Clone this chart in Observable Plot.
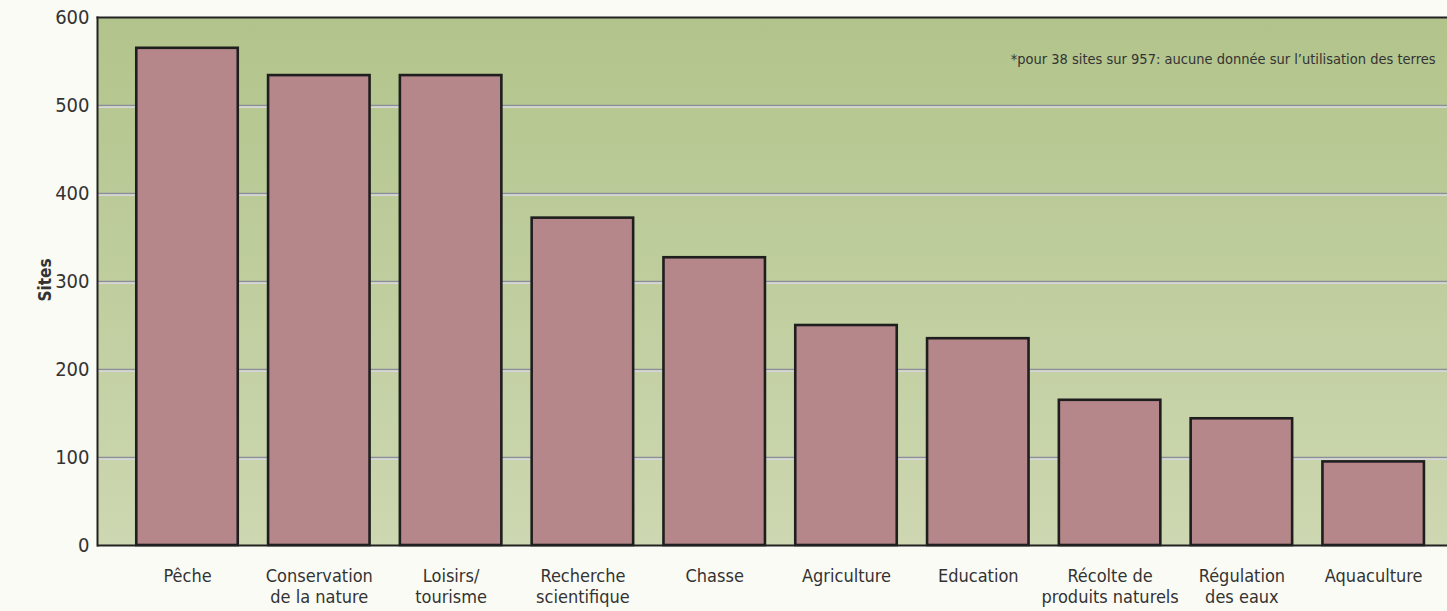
<!DOCTYPE html>
<html><head><meta charset="utf-8">
<script src="https://cdn.jsdelivr.net/npm/d3@7"></script>
<script src="https://cdn.jsdelivr.net/npm/@observablehq/plot@0.6"></script>
<style>
html,body{margin:0;padding:0;background:#fbfbf5;}
#chart{width:1447px;height:611px;}
</style></head><body><div id="chart"></div>
<script>
const categories = ["Pêche","Conservation\nde la nature","Loisirs/\ntourisme","Recherche\nscientifique","Chasse","Agriculture","Education","Récolte de\nproduits naturels","Régulation\ndes eaux","Aquaculture"];
const values = [565, 534, 534, 372, 327, 250, 235, 165, 144, 95];
const yTicks = [0, 100, 200, 300, 400, 500, 600];
const gridTicks = [100, 200, 300, 400, 500];
const note = "*pour 38 sites sur 957: aucune donnée sur l’utilisation des terres";

const data = categories.map((c, i) => ({cat: c, v: values[i]}));
const font = "'DejaVu Sans Condensed','Liberation Sans Narrow','Open Sans',sans-serif";

const chart = Plot.plot({
  width: 1447, height: 611,
  marginLeft: 97, marginRight: 0, marginTop: 17, marginBottom: 66,
  style: {fontFamily: font, fontSize: "18px", color: "#333", background: "transparent"},
  x: {domain: categories, paddingInner: 0.23, paddingOuter: 0.2365, align: 0.63, round: false, label: null},
  y: {domain: [0, 600], label: null},
  marks: [
    Plot.frame({fill: "url(#bgGrad)", stroke: null}),
    Plot.ruleY(gridTicks, {stroke: "#8b8f99", strokeWidth: 1.6}),
    Plot.ruleY(gridTicks, {stroke: "#d6d6d6", strokeWidth: 1.6, dy: 1.6}),
    Plot.barY(data, {x: "cat", y: "v", fill: "#b5878a", stroke: "#1e1e1e", strokeWidth: 2.6}),
    Plot.frame({anchor: "top", stroke: "#222", strokeWidth: 2}),
    Plot.frame({anchor: "left", stroke: "#222", strokeWidth: 2}),
    Plot.ruleY([0], {stroke: "#222", strokeWidth: 2}),
    Plot.axisY({ticks: yTicks, tickSize: 0, tickPadding: 8, fontSize: 20, fill: "#333", label: null}),
    Plot.axisX({tickSize: 0, tickPadding: 22, fontSize: 18, fill: "#333", lineHeight: 1.15, label: null}),
    Plot.text([note], {frameAnchor: "top-right", dx: -12, dy: 36, text: d => d, fontSize: 14.5, fill: "#333", textAnchor: "end"}),
    Plot.text(["Sites"], {frameAnchor: "left", dx: -52, dy: 20, rotate: -90, text: d => d, fontSize: 17, fontWeight: "bold", fill: "#333"})
  ]
});

const svg = d3.select(chart);
const defs = svg.insert("defs", ":first-child");
const g = defs.append("linearGradient").attr("id", "bgGrad").attr("x1", 0).attr("y1", 0).attr("x2", 0).attr("y2", 1);
g.append("stop").attr("offset", "0%").attr("stop-color", "#b2c48b");
g.append("stop").attr("offset", "100%").attr("stop-color", "#cdd7b1");
document.getElementById("chart").appendChild(chart);
</script></body></html>
